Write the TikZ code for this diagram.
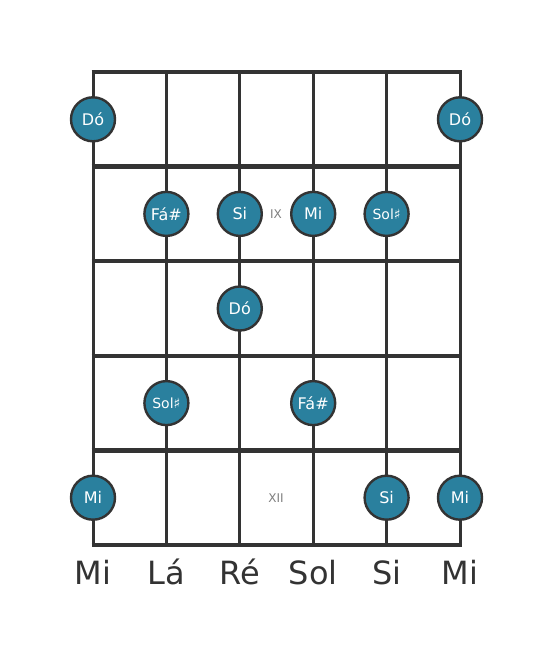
\documentclass[tikz,border=0pt]{standalone}
\usepackage{fontspec}
\setmainfont{DejaVu Sans}
\usepackage{tikz}
\usetikzlibrary{positioning}

\definecolor{notefill}{RGB}{42,128,158}
\definecolor{wire}{RGB}{51,51,51}
\tikzset{
  note/.style={circle, draw=wire, line width=2.4pt, fill=notefill,
    minimum size=44pt, inner sep=0pt, text=white, font=\fontsize{16}{16}\selectfont},
  smallnote/.style={note, font=\fontsize{14}{14}\selectfont},
  fretno/.style={text=gray, font=\fontsize{12}{12}\selectfont},
  tuning/.style={anchor=base, text=wire, font=\fontsize{32}{32}\selectfont},
  fret/.style={wire, line width=4.5pt},
  string/.style={wire, line width=3pt}
}

\begin{document}
\begin{tikzpicture}[x=1pt, y=-1pt]
  \useasboundingbox[fill=white] (0,0) rectangle (553,656);

  % strings and frets
  \foreach \s/\x in {1/93, 2/166.4, 3/239.8, 4/313.2, 5/386.6, 6/460} {
    \coordinate (top\s) at (\x,72);
    \coordinate (bot\s) at (\x,545);
    \draw[string] (top\s) -- (bot\s);
  }
  \foreach \f/\y in {0/72, 1/166.6, 2/261.2, 3/355.8, 4/450.4, 5/545} {
    \coordinate (fl\f) at (93,\y);
    \coordinate (fr\f) at (460,\y);
    \draw[fret] ([xshift=-1.5pt]fl\f) -- ([xshift=1.5pt]fr\f);
  }

  % notes
  \node[note] (c1) at (93,119.3)    {Dó};
  \node[note] (c6) at (460,119.3)   {Dó};
  \node[note] (fs2) at (166.4,213.9) {Fá\#};
  \node[note] (b3) at (239.8,213.9) {Si};
  \node[note] (e4) at (313.2,213.9) {Mi};
  \node[smallnote] (gs5) at (386.6,213.9) {Sol♯};
  \node[note] (c3) at (239.8,308.5) {Dó};
  \node[smallnote] (gs2) at (166.4,403.1) {Sol♯};
  \node[note] (fs4) at (313.2,403.1) {Fá\#};
  \node[note] (e1) at (93,497.7)    {Mi};
  \node[note] (b5) at (386.6,497.7) {Si};
  \node[note] (e6) at (460,497.7)   {Mi};

  % fret numbers
  \node[fretno] (nine) at (276,213.9)   {IX};
  \node[fretno] (twelve) at (276,497.7) {XII};

  % tuning
  \node[tuning] (t1) at (93,584)    {Mi};
  \node[tuning] (t2) at (166.4,584) {Lá};
  \node[tuning] (t3) at (239.8,584) {Ré};
  \node[tuning] (t4) at (313.2,584) {Sol};
  \node[tuning] (t5) at (386.6,584) {Si};
  \node[tuning] (t6) at (460,584)   {Mi};
\end{tikzpicture}
\end{document}
